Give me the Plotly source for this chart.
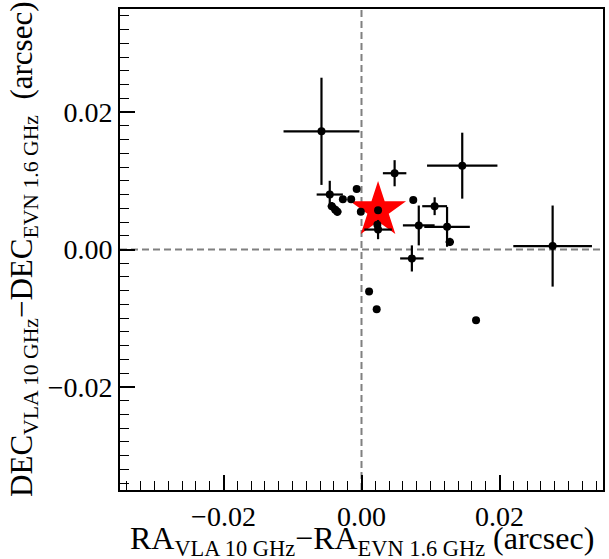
import plotly.graph_objects as go

# Offsets (arcsec)
ra = [-0.0058, 0.0146, 0.0048, 0.0277, 0.0075, 0.0106, 0.0083, 0.0124, 0.0128, 0.0073,
      0.0166, 0.0011, 0.0022, -0.0046, -0.0043, -0.0038, -0.0035, -0.0027, -0.0015,
      -0.0007, -0.0001, 0.0024, 0.0023, 0.0024]
dec = [0.0172, 0.0122, 0.0111, 0.0005, 0.0072, 0.0063, 0.0035, 0.0033, 0.0011, -0.0013,
       -0.0103, -0.0061, -0.0087, 0.0080, 0.0063, 0.0058, 0.0055, 0.0073, 0.0073,
       0.0088, 0.0055, 0.0057, 0.0036, 0.0029]
ra_err = [0.0055, 0.0051, 0.0017, 0.0057, 0, 0.0018, 0.0023, 0.0033, 0.0006, 0.0017,
          0, 0, 0, 0.0019, 0.0006, 0.0006, 0.0006, 0, 0, 0, 0, 0, 0, 0.0020]
dec_err = [0.0078, 0.0048, 0.0019, 0.0059, 0, 0.0013, 0.0029, 0.0029, 0.0006, 0.0019,
           0, 0, 0, 0.0020, 0.0006, 0.0006, 0.0006, 0, 0, 0, 0, 0, 0, 0.0014]

star_ra = [0.0024]
star_dec = [0.0057]

tick_vals = [-0.02, 0.0, 0.02]
tick_text = ["\u22120.02", "0.00", "0.02"]

x_title = "RA<sub>VLA 10 GHz</sub>\u2212RA<sub>EVN 1.6 GHz</sub> (arcsec)"
y_title = "DEC<sub>VLA 10 GHz</sub>\u2212DEC<sub>EVN 1.6 GHz</sub>  (arcsec)"

x_range = [-0.035, 0.035]
y_range = [-0.035, 0.035]

fig = go.Figure()

fig.add_trace(go.Scatter(
    x=star_ra, y=star_dec, mode="markers",
    marker=dict(symbol="star", size=42, color="#ff0000", line=dict(width=0)),
    showlegend=False,
))

fig.add_trace(go.Scatter(
    x=ra, y=dec, mode="markers",
    marker=dict(size=8, color="black"),
    error_x=dict(type="data", array=ra_err, width=0, thickness=2.2, color="black"),
    error_y=dict(type="data", array=dec_err, width=0, thickness=2.2, color="black"),
    showlegend=False,
))

dash_style = dict(color="#808080", width=2, dash="7px,4px")
fig.add_shape(type="line", xref="x", yref="paper", x0=0, x1=0, y0=0, y1=1,
              line=dash_style, layer="below")
fig.add_shape(type="line", xref="paper", yref="y", x0=0, x1=1, y0=0, y1=0,
              line=dash_style, layer="below")

font_family = "Liberation Serif"

axis_common = dict(
    showgrid=False, zeroline=False, automargin=False,
    showline=True, linecolor="black", linewidth=1.8, mirror=True,
    ticks="inside", ticklen=15, tickwidth=1.5, tickcolor="black",
    tickmode="array", tickvals=tick_vals, ticktext=tick_text,
    minor=dict(ticks="inside", ticklen=9, tickwidth=1.2, tickcolor="black",
               tickmode="linear", tick0=0, dtick=0.002),
    tickfont=dict(family=font_family, size=28, color="black"),
)

fig.update_layout(
    width=609, height=559,
    margin=dict(l=120, r=6, t=9, b=69, autoexpand=False),
    plot_bgcolor="white", paper_bgcolor="white",
    font=dict(family=font_family, color="black", size=28),
    xaxis=dict(range=x_range, **axis_common),
    yaxis=dict(range=y_range, **axis_common),
)

fig.add_annotation(
    text=x_title, xref="paper", yref="paper", x=0.5, y=-0.104,
    xanchor="center", yanchor="middle", showarrow=False,
    font=dict(family=font_family, size=32, color="black"),
)
fig.add_annotation(
    text=y_title, xref="paper", yref="paper", x=-0.2, y=0.5, textangle=-90,
    xanchor="center", yanchor="middle", showarrow=False,
    font=dict(family=font_family, size=31, color="black"),
)

fig.write_html("out.html")
